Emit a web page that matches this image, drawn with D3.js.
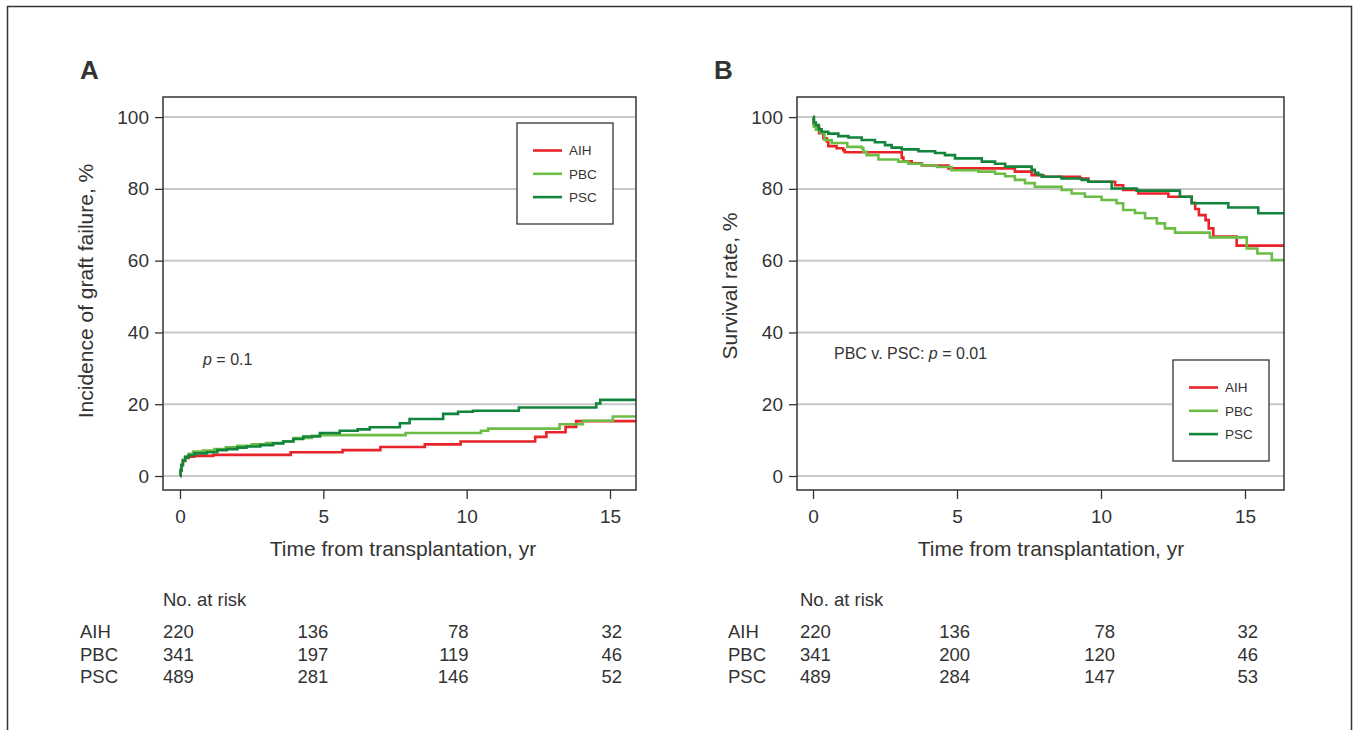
<!DOCTYPE html>
<html>
<head>
<meta charset="utf-8">
<script src="https://cdn.jsdelivr.net/npm/d3@7"></script>
<style>
  html, body { margin: 0; padding: 0; background: #fff; }
  svg { display: block; font-family: "Liberation Sans", Arial, Helvetica, sans-serif; }
  text { fill: #333; }
</style>
</head>
<body>
<svg id="chart" width="1360" height="730"></svg>
<script>
// ---------------- DATA ----------------
const categories = ["AIH", "PBC", "PSC"];
const yTicks = [0, 20, 40, 60, 80, 100];
const xTicks = [0, 5, 10, 15];
const riskTimes = [0, 5, 10, 15];

// Panel A: cumulative incidence of graft failure (%), [years, %]
const graftAIH = [[0,0],[0.02,1.5],[0.05,3],[0.1,4.2],[0.18,5],[0.3,5.4],[0.5,5.6],[1.16,5.9],[3.86,6.6],[5.67,7.2],[6.99,8.1],[8.54,8.8],[9.79,9.6],[12.39,10.9],[12.78,12.2],[13.45,13.7],[13.82,15.3]];
const graftPBC = [[0,0],[0.02,1.8],[0.05,3.2],[0.1,4.5],[0.18,5.5],[0.3,6.2],[0.46,6.8],[0.8,7.1],[1.2,7.5],[1.6,8.0],[2.0,8.4],[2.5,8.8],[3.0,9.2],[3.6,9.7],[3.97,10.6],[4.6,11.2],[4.9,11.4],[7.87,12.0],[10.5,12.6],[10.75,13.2],[13.24,14.4],[14.05,15.4],[15.1,16.6]];
const graftPSC = [[0,0],[0.02,1.5],[0.05,3],[0.1,4.3],[0.18,5.2],[0.3,5.8],[0.5,6.3],[0.93,6.6],[1.3,7.2],[1.63,7.5],[2.0,7.9],[2.32,8.2],[2.8,8.6],[3.25,9.1],[3.6,9.6],[3.95,10.3],[4.3,11.0],[4.88,12.0],[5.57,12.6],[6.2,13.0],[6.62,13.6],[7.67,14.7],[8.01,15.9],[9.18,17.3],[9.7,17.9],[10.22,18.2],[11.82,19.1],[14.52,20.2],[14.66,21.2]];

// Panel B: survival rate (%), [years, %]
const survAIH = [[0,100],[0.02,98],[0.05,97.3],[0.21,95.5],[0.36,94.1],[0.48,93.2],[0.53,91.9],[0.82,91.3],[1.05,90.8],[1.1,90.2],[3.08,88.7],[3.14,87.7],[3.43,87.1],[3.78,86.5],[4.7,85.7],[7.01,84.8],[7.59,83.8],[8.0,83.4],[9.27,82.9],[9.56,82.0],[10.49,81.0],[10.77,79.7],[11.3,78.7],[12.34,77.8],[13.15,76.1],[13.27,74.4],[13.4,72.7],[13.63,71.3],[13.74,69.0],[13.9,66.7],[14.71,64.2]];
const survPBC = [[0,100],[0.03,97.3],[0.1,96.5],[0.26,95.5],[0.4,93.6],[0.65,92.8],[1.19,91.7],[1.7,91.3],[1.75,90.3],[1.86,89.4],[2.27,88.2],[2.96,87.6],[3.31,87.0],[3.78,86.5],[4.31,86.1],[4.81,85.2],[5.74,84.8],[6.32,84.2],[6.67,83.5],[7.01,82.5],[7.36,81.6],[7.7,80.6],[8.63,79.7],[8.98,78.7],[9.44,77.8],[10.02,76.9],[10.54,76.0],[10.77,74.1],[11.18,73.3],[11.53,71.8],[11.94,70.4],[12.22,69.0],[12.57,67.8],[13.78,66.5],[15.06,63.4],[15.43,62.0],[15.93,60.2]];
const survPSC = [[0,100],[0.03,98.5],[0.1,97.8],[0.2,96.6],[0.3,95.9],[0.53,95.4],[0.88,94.7],[1.23,94.3],[1.69,93.6],[2.15,93.0],[2.5,92.2],[2.73,91.5],[3.08,91.0],[3.66,90.5],[4.24,90.0],[4.58,89.4],[4.93,88.5],[5.86,87.6],[6.32,87.0],[6.67,86.2],[7.59,85.3],[7.7,84.5],[7.82,83.9],[7.94,83.4],[8.63,82.9],[9.33,82.5],[9.56,82.0],[10.37,80.1],[11.24,79.5],[12.74,77.8],[13.15,76.0],[14.42,74.8],[15.46,73.2]];

// Numbers at risk
const riskA_AIH = [220, 136, 78, 32];
const riskA_PBC = [341, 197, 119, 46];
const riskA_PSC = [489, 281, 146, 52];
const riskB_AIH = [220, 136, 78, 32];
const riskB_PBC = [341, 200, 120, 46];
const riskB_PSC = [489, 284, 147, 53];

// ---------------- STYLE / LAYOUT ----------------
const colors = { AIH: "#e8232a", PBC: "#6cbd45", PSC: "#13843c" };
const svg = d3.select("#chart");

// outer frame
svg.append("path")
  .attr("d", "M7.5,740 V6.5 H1351.5 V740")
  .attr("fill", "none").attr("stroke", "#333").attr("stroke-width", 1.5);

function panel(cfg) {
  const x = d3.scaleLinear().domain(cfg.xDomain).range([cfg.left, cfg.right]);
  const y = d3.scaleLinear().domain([-3.9, 105.6]).range([cfg.bottom, cfg.top]);
  const g = svg.append("g");

  const clipId = "clip" + cfg.letter;
  svg.append("defs").append("clipPath").attr("id", clipId)
    .append("rect").attr("x", cfg.left).attr("y", cfg.top)
    .attr("width", cfg.right - cfg.left).attr("height", cfg.bottom - cfg.top);

  // gridlines
  g.append("g").selectAll("line").data(yTicks).join("line")
    .attr("x1", cfg.left).attr("x2", cfg.right)
    .attr("y1", d => y(d)).attr("y2", d => y(d))
    .attr("stroke", "#c8c8c8").attr("stroke-width", 2);

  // curves
  const line = d3.line().x(d => x(d[0])).y(d => y(d[1])).curve(d3.curveStepAfter);
  const curves = g.append("g").attr("clip-path", `url(#${clipId})`);
  cfg.series.forEach((s, i) => {
    const last = s[s.length - 1];
    const pts = s.concat([[x.domain()[1], last[1]]]);
    curves.append("path").datum(pts)
      .attr("d", line).attr("fill", "none")
      .attr("stroke", colors[categories[i]]).attr("stroke-width", 2.6)
      .attr("stroke-linejoin", "miter");
  });

  // axes
  const yAxis = d3.axisLeft(y).tickValues(yTicks).tickSize(8).tickPadding(6);
  const xAxis = d3.axisBottom(x).tickValues(xTicks).tickSize(9).tickPadding(6);
  const ya = g.append("g").attr("transform", `translate(${cfg.left},0)`).call(yAxis);
  const xa = g.append("g").attr("transform", `translate(0,${cfg.bottom})`).call(xAxis);
  [ya, xa].forEach(a => {
    a.select(".domain").remove();
    a.selectAll(".tick line").attr("stroke", "#333").attr("stroke-width", 1.3);
    a.selectAll(".tick text").attr("font-size", 19).attr("fill", "#333")
      .attr("font-family", "Liberation Sans, Arial, sans-serif");
  });
  xa.selectAll(".tick text").attr("dy", "0.95em");

  // box
  g.append("rect").attr("x", cfg.left).attr("y", cfg.top)
    .attr("width", cfg.right - cfg.left).attr("height", cfg.bottom - cfg.top)
    .attr("fill", "none").attr("stroke", "#333").attr("stroke-width", 1.5);

  // panel letter
  g.append("text").attr("x", cfg.letterX).attr("y", 79)
    .attr("font-size", 26).attr("font-weight", "bold").attr("fill", "#111")
    .text(cfg.letter);

  // axis titles
  g.append("text").attr("x", cfg.xTitleX).attr("y", 556)
    .attr("text-anchor", "middle").attr("font-size", 21).text("Time from transplantation, yr");
  g.append("text")
    .attr("transform", `translate(${cfg.yTitleX},${cfg.yTitleY}) rotate(-90)`)
    .attr("text-anchor", "middle").attr("font-size", 21).text(cfg.yTitle);

  // annotation
  const ann = g.append("text").attr("x", cfg.annX).attr("y", cfg.annY).attr("font-size", 16);
  if (cfg.annPrefix) ann.append("tspan").text(cfg.annPrefix);
  ann.append("tspan").attr("font-style", "italic").text("p");
  ann.append("tspan").text(" = " + cfg.pValue);

  // legend
  const lg = g.append("g").attr("transform", `translate(${cfg.legX},${cfg.legY})`);
  lg.append("rect").attr("width", 96).attr("height", 101)
    .attr("fill", "#fff").attr("stroke", "#333").attr("stroke-width", 1.3);
  categories.forEach((c, i) => {
    const yy = 27.5 + i * 23.3;
    lg.append("line").attr("x1", 16).attr("x2", 45).attr("y1", yy).attr("y2", yy)
      .attr("stroke", colors[c]).attr("stroke-width", 2.6);
    lg.append("text").attr("x", 52).attr("y", yy).attr("dy", "0.36em")
      .attr("font-size", 13.5).attr("fill", "#444").text(c);
  });

  // risk table
  const rt = svg.append("g");
  rt.append("text").attr("x", cfg.riskStartX).attr("y", 606).attr("font-size", 18.5).text("No. at risk");
  cfg.risk.forEach((row, i) => {
    const yy = 638 + i * 22.5;
    rt.append("text").attr("x", cfg.riskLabelX).attr("y", yy).attr("font-size", 18.5).text(categories[i]);
    rt.selectAll(null).data(row).join("text")
      .attr("x", (d, j) => j === 0 ? cfg.riskStartX : x(riskTimes[j]) + cfg.riskShift[j])
      .attr("y", yy)
      .attr("text-anchor", (d, j) => j === 0 ? "start" : "end")
      .attr("font-size", 18.5)
      .text(d => d);
  });
}

panel({
  letter: "A", letterX: 80,
  left: 163, right: 636, top: 97, bottom: 490,
  xDomain: [-0.593, 15.907],
  series: [graftAIH, graftPBC, graftPSC],
  yTitle: "Incidence of graft failure, %", yTitleX: 93, yTitleY: 291,
  xTitleX: 403,
  annX: 203, annY: 365, annPrefix: "", pValue: "0.1",
  legX: 517, legY: 123,
  risk: [riskA_AIH, riskA_PBC, riskA_PSC], riskLabelX: 80, riskStartX: 163,
  riskShift: [0, 5, 2, 12]
});

panel({
  letter: "B", letterX: 714,
  left: 797, right: 1284, top: 97, bottom: 490,
  xDomain: [-0.556, 16.354],
  series: [survAIH, survPBC, survPSC],
  yTitle: "Survival rate,  %", yTitleX: 737, yTitleY: 286,
  xTitleX: 1051,
  annX: 834, annY: 359, annPrefix: "PBC v. PSC: ", pValue: "0.01",
  legX: 1173, legY: 360,
  risk: [riskB_AIH, riskB_PBC, riskB_PSC], riskLabelX: 728, riskStartX: 800,
  riskShift: [0, 13, 14, 13]
});
</script>
</body>
</html>
